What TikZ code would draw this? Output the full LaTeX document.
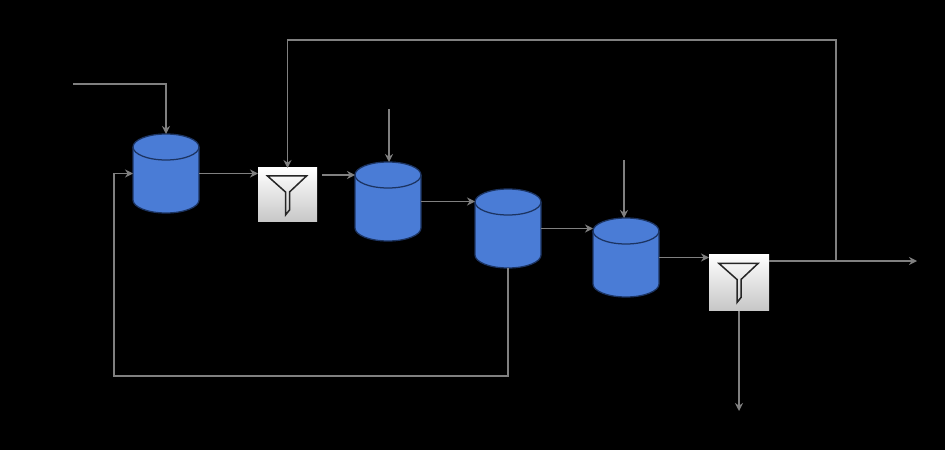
\documentclass[tikz,border=0pt]{standalone}
\usepackage{tikz}
\usetikzlibrary{arrows.meta}
\definecolor{tankblue}{RGB}{74,124,214}
\definecolor{tankedge}{RGB}{28,52,98}
\definecolor{flowgray}{RGB}{128,128,128}
\newcommand{\funnelat}[1]{\draw[funnelline,shift={(#1.center)}] (-.4,.38) -- (.38,.38) -- (.04,.06) -- (.04,-.3) -- (-.04,-.4) -- (-.04,.06) -- cycle;}
\newcommand{\tankat}[1]{
    \draw[tankline,fill=tankblue,shift={(#1.center)}] (-.66,.53) arc[start angle=180,end angle=0,x radius=.66,y radius=.26] -- (.66,-.53) arc[start angle=0,end angle=-180,x radius=.66,y radius=.26] -- cycle;
    \draw[tankline,shift={(#1.center)}] (-.66,.53) arc[start angle=180,end angle=360,x radius=.66,y radius=.26];
}
\begin{document}
\begin{tikzpicture}[
    tank/.style={rectangle, minimum width=1.32cm, minimum height=1.58cm, inner sep=0pt, outer sep=0pt},
    tankline/.style={draw=tankedge, line width=0.025cm},
    filterbox/.style={rectangle, top color=white, bottom color=black!22, minimum width=1.18cm, minimum height=1.08cm, inner sep=0pt, outer sep=0pt},
    funnelline/.style={draw=black!85, line width=0.03cm, line join=miter},
    flow/.style={-{Stealth[length=0.16cm,width=0.16cm]}, draw=flowgray, line width=0.03cm}]
    % Hintergrund
    \fill[black] (0,0) rectangle (18.9,9);

    % Tanks
    \node[tank] (tankA) at (3.32,5.53) {};
    \node[tank] (tankB) at (7.76,4.97) {};
    \node[tank] (tankC) at (10.16,4.43) {};
    \node[tank] (tankD) at (12.52,3.85) {};
    \tankat{tankA}
    \tankat{tankB}
    \tankat{tankC}
    \tankat{tankD}

    % Filter
    \node[filterbox] (filterA) at (5.75,5.1) {};
    \node[filterbox, minimum width=1.2cm, minimum height=1.12cm] (filterB) at (14.78,3.35) {};
    \funnelat{filterA}
    \funnelat{filterB}

    % Freie Enden
    \coordinate (feedA) at (1.46,7.32);
    \coordinate (feedB) at (7.78,6.82);
    \coordinate (feedD) at (12.48,5.8);
    \coordinate (startB) at (6.44,5.5);
    \coordinate (outTop) at (18.34,3.78);
    \coordinate (outBottom) at (14.78,0.78);
    \coordinate (loopTop) at (16.72,8.2);
    \coordinate (loopBottom) at (2.28,1.48);

    % Zulaeufe
    \draw[flow] (feedA) -| (tankA.north);
    \draw[flow] (feedB) -- (feedB |- tankB.north);
    \draw[flow] (feedD) -- (feedD |- tankD.north);

    % Hauptstrom
    \draw[flow] (tankA.east) -- (tankA.east -| filterA.west);
    \draw[flow] (startB) -- (startB -| tankB.west);
    \draw[flow] (tankB.east) -- (tankB.east -| tankC.west);
    \draw[flow] (tankC.east) -- (tankC.east -| tankD.west);
    \draw[flow] (tankD.east) -- (tankD.east -| filterB.west);
    \draw[flow] (outTop -| filterB.east) -- (outTop);
    \draw[flow] (filterB.south) -- (outBottom);

    % Rueckfuehrungen
    \draw[flow] (loopTop |- outTop) -- (loopTop) -- (loopTop -| filterA.north) -- (filterA.north);
    \draw[flow] (tankC.south) |- (loopBottom) |- (tankA.west);
\end{tikzpicture}
\end{document}
